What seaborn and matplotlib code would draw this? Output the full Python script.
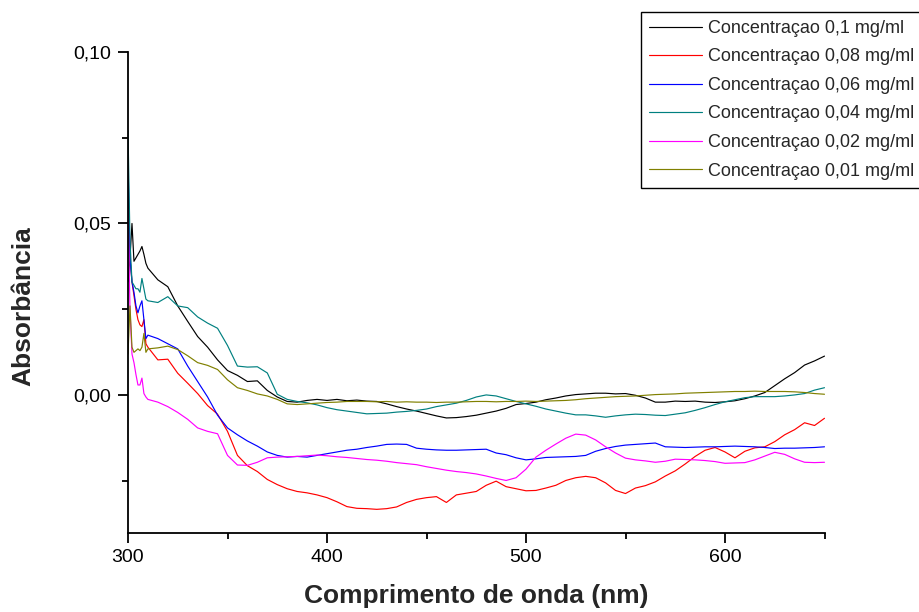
import numpy as np
import pandas as pd
import matplotlib
matplotlib.use("Agg")
import matplotlib.pyplot as plt
import seaborn as sns
from matplotlib.ticker import MultipleLocator, FuncFormatter

# Wavelength grid (nm): dense near the cut-off, then every 5 nm
wavelength = np.concatenate([
    [300, 301, 302, 303, 304, 305, 306, 307, 308, 309, 310],
    np.arange(315, 651, 5),
])

abs_010 = [
    0.0330, 0.0400, 0.0500, 0.0390, 0.0400, 0.0410, 0.0420, 0.0433, 0.0410, 0.0384, 0.0370,
    0.0336, 0.0316, 0.0260, 0.0215, 0.0171, 0.0140, 0.0103, 0.0072, 0.0058, 0.0040,
    0.0042, 0.0014, -0.0005, -0.0018, -0.0020, -0.0015, -0.0012, -0.0015, -0.0012, -0.0016,
    -0.0014, -0.0017, -0.0018, -0.0025, -0.0033, -0.0040, -0.0046, -0.0053, -0.0060, -0.0066,
    -0.0065, -0.0062, -0.0058, -0.0052, -0.0046, -0.0038, -0.0027, -0.0024, -0.0020, -0.0013,
    -0.0008, -0.0002, 0.0002, 0.0004, 0.0006, 0.0006, 0.0004, 0.0005, 0.0000, -0.0008,
    -0.0020, -0.0020, -0.0017, -0.0018, -0.0017, -0.0020, -0.0021, -0.0019, -0.0016, -0.0010,
    -0.0002, 0.0008, 0.0028, 0.0048, 0.0066, 0.0088, 0.0100, 0.0114,
]

abs_008 = [
    0.0580, 0.0400, 0.0330, 0.0290, 0.0250, 0.0220, 0.0205, 0.0200, 0.0220, 0.0150, 0.0140,
    0.0103, 0.0105, 0.0064, 0.0035, 0.0005, -0.0030, -0.0055, -0.0105, -0.0175, -0.0205,
    -0.0222, -0.0245, -0.0260, -0.0272, -0.0280, -0.0284, -0.0290, -0.0298, -0.0310, -0.0324,
    -0.0329, -0.0330, -0.0332, -0.0330, -0.0325, -0.0312, -0.0303, -0.0298, -0.0295, -0.0312,
    -0.0290, -0.0285, -0.0280, -0.0262, -0.0250, -0.0266, -0.0272, -0.0278, -0.0277, -0.0270,
    -0.0262, -0.0248, -0.0240, -0.0236, -0.0240, -0.0255, -0.0277, -0.0286, -0.0270, -0.0263,
    -0.0252, -0.0235, -0.0220, -0.0200, -0.0178, -0.0160, -0.0152, -0.0165, -0.0182, -0.0163,
    -0.0153, -0.0150, -0.0135, -0.0115, -0.0100, -0.0080, -0.0088, -0.0067,
]

abs_006 = [
    0.0680, 0.0400, 0.0330, 0.0300, 0.0260, 0.0240, 0.0260, 0.0275, 0.0220, 0.0165, 0.0175,
    0.0165, 0.0150, 0.0135, 0.0085, 0.0040, -0.0005, -0.0058, -0.0095, -0.0115, -0.0133,
    -0.0148, -0.0165, -0.0175, -0.0180, -0.0178, -0.0180, -0.0175, -0.0170, -0.0165, -0.0160,
    -0.0157, -0.0152, -0.0148, -0.0143, -0.0142, -0.0143, -0.0154, -0.0157, -0.0159, -0.0160,
    -0.0160, -0.0159, -0.0158, -0.0157, -0.0168, -0.0173, -0.0182, -0.0188, -0.0185, -0.0181,
    -0.0180, -0.0179, -0.0178, -0.0175, -0.0163, -0.0155, -0.0149, -0.0145, -0.0143, -0.0141,
    -0.0139, -0.0150, -0.0151, -0.0152, -0.0151, -0.0150, -0.0150, -0.0149, -0.0148, -0.0149,
    -0.0150, -0.0152, -0.0155, -0.0154, -0.0154, -0.0153, -0.0152, -0.0150,
]

abs_004 = [
    0.0770, 0.0450, 0.0330, 0.0320, 0.0310, 0.0310, 0.0300, 0.0340, 0.0310, 0.0280, 0.0275,
    0.0270, 0.0287, 0.0260, 0.0255, 0.0228, 0.0210, 0.0195, 0.0145, 0.0085, 0.0082,
    0.0083, 0.0065, 0.0003, -0.0012, -0.0018, -0.0022, -0.0028, -0.0036, -0.0042, -0.0046,
    -0.0050, -0.0054, -0.0053, -0.0052, -0.0049, -0.0047, -0.0044, -0.0040, -0.0033, -0.0028,
    -0.0023, -0.0015, -0.0005, 0.0001, -0.0002, -0.0010, -0.0018, -0.0025, -0.0032, -0.0040,
    -0.0046, -0.0052, -0.0057, -0.0057, -0.0060, -0.0064, -0.0060, -0.0057, -0.0055, -0.0056,
    -0.0058, -0.0059, -0.0055, -0.0051, -0.0044, -0.0036, -0.0027, -0.0019, -0.0013, -0.0007,
    -0.0004, -0.0004, -0.0004, -0.0002, 0.0001, 0.0005, 0.0015, 0.0022,
]

abs_002 = [
    0.0540, 0.0250, 0.0120, 0.0095, 0.0060, 0.0030, 0.0030, 0.0050, 0.0005, -0.0005, -0.0012,
    -0.0020, -0.0033, -0.0050, -0.0070, -0.0095, -0.0105, -0.0112, -0.0175, -0.0203, -0.0204,
    -0.0195, -0.0182, -0.0180, -0.0179, -0.0178, -0.0176, -0.0174, -0.0176, -0.0179, -0.0181,
    -0.0184, -0.0187, -0.0189, -0.0192, -0.0196, -0.0199, -0.0202, -0.0208, -0.0213, -0.0218,
    -0.0222, -0.0225, -0.0229, -0.0235, -0.0242, -0.0248, -0.0240, -0.0215, -0.0180, -0.0160,
    -0.0142, -0.0125, -0.0113, -0.0116, -0.0130, -0.0150, -0.0168, -0.0183, -0.0188, -0.0191,
    -0.0195, -0.0192, -0.0186, -0.0187, -0.0188, -0.0190, -0.0193, -0.0198, -0.0197, -0.0196,
    -0.0188, -0.0177, -0.0166, -0.0172, -0.0185, -0.0195, -0.0196, -0.0195,
]

abs_001 = [
    0.0120, 0.0260, 0.0140, 0.0125, 0.0130, 0.0135, 0.0130, 0.0140, 0.0180, 0.0125, 0.0135,
    0.0138, 0.0143, 0.0133, 0.0115, 0.0095, 0.0087, 0.0075, 0.0045, 0.0022, 0.0014,
    0.0004, -0.0002, -0.0012, -0.0025, -0.0027, -0.0025, -0.0023, -0.0021, -0.0020, -0.0018,
    -0.0018, -0.0018, -0.0019, -0.0018, -0.0020, -0.0019, -0.0020, -0.0020, -0.0021, -0.0020,
    -0.0020, -0.0019, -0.0018, -0.0018, -0.0019, -0.0018, -0.0018, -0.0017, -0.0018, -0.0017,
    -0.0016, -0.0015, -0.0013, -0.0010, -0.0008, -0.0006, -0.0004, -0.0003, -0.0002, 0.0000,
    0.0002, 0.0003, 0.0004, 0.0006, 0.0007, 0.0008, 0.0009, 0.0010, 0.0011, 0.0011,
    0.0012, 0.0011, 0.0011, 0.0011, 0.0010, 0.0008, 0.0005, 0.0003,
]

series_labels = [
    "Concentraçao 0,1 mg/ml",
    "Concentraçao 0,08 mg/ml",
    "Concentraçao 0,06 mg/ml",
    "Concentraçao 0,04 mg/ml",
    "Concentraçao 0,02 mg/ml",
    "Concentraçao 0,01 mg/ml",
]
series_values = [abs_010, abs_008, abs_006, abs_004, abs_002, abs_001]
series_colors = ["#000000", "#ff0000", "#0000ff", "#008080", "#ff00ff", "#808000"]

df = pd.concat(
    [pd.DataFrame({"nm": wavelength, "abs": vals, "serie": lab})
     for lab, vals in zip(series_labels, series_values)],
    ignore_index=True,
)

sns.set_theme(style="ticks")
plt.rcParams["font.family"] = ["Liberation Sans", "DejaVu Sans"]

W, H = 919, 612
fig = plt.figure(figsize=(W / 100, H / 100), dpi=100)
ax = fig.add_axes([128 / W, 1 - 532.7 / H, 696.5 / W, 481 / H])

sns.lineplot(
    data=df, x="nm", y="abs", hue="serie", hue_order=series_labels,
    palette=dict(zip(series_labels, series_colors)),
    estimator=None, sort=False, lw=0.85, ax=ax,
)

ax.set_xlim(300, 650)
ax.set_ylim(-0.04, 0.10)
ax.xaxis.set_major_locator(MultipleLocator(100))
ax.xaxis.set_minor_locator(MultipleLocator(50))
ax.yaxis.set_major_locator(MultipleLocator(0.05))
ax.yaxis.set_minor_locator(MultipleLocator(0.025))
ax.yaxis.set_major_formatter(FuncFormatter(lambda v, p: f"{v:.2f}".replace(".", ",").replace("-0,00", "0,00")))
ax.xaxis.set_major_formatter(FuncFormatter(lambda v, p: f"{v:.0f}"))

for side in ("top", "right"):
    ax.spines[side].set_visible(False)
for side in ("left", "bottom"):
    ax.spines[side].set_linewidth(1.3)
    ax.spines[side].set_color("black")

ax.tick_params(which="major", direction="out", length=7, width=1.3, labelsize=14,
               pad=5, colors="black")
ax.tick_params(which="minor", direction="out", length=4, width=1.3, colors="black")

ax.set_xlabel("")
ax.set_ylabel("")
fig.text(476 / W, 1 - 596 / H, "Comprimento de onda (nm)", ha="center", va="center",
         fontsize=19, fontweight="bold")
fig.text(23 / W, 1 - 306 / H, "Absorbância", ha="center", va="center",
         rotation=90, fontsize=19, fontweight="bold")

handles, labels = ax.get_legend_handles_labels()
ax.get_legend().remove()
leg = fig.legend(
    handles, labels, loc="upper left", bbox_to_anchor=(641 / W, 1 - 11.7 / H),
    fontsize=13, frameon=True, fancybox=False, framealpha=1, borderpad=0.45,
    handlelength=2.93, handletextpad=0.33, labelspacing=0.64, borderaxespad=0,
)
leg.get_frame().set_edgecolor("black")
leg.get_frame().set_linewidth(1.0)

fig.savefig("out.png", dpi=100)
